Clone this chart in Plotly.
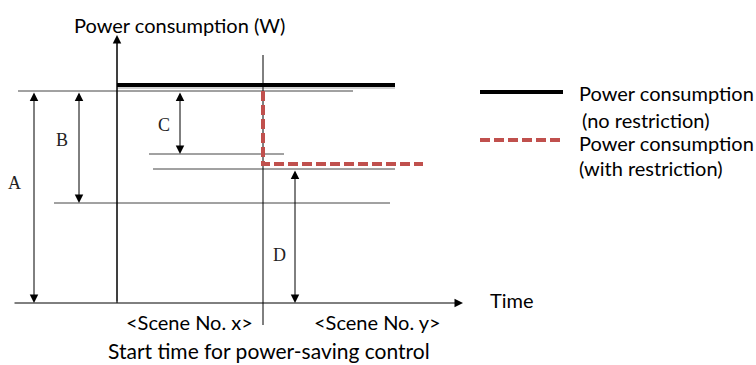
import plotly.graph_objects as go

# ---------------------------------------------------------------------------
# Schematic values (time units along x, power units along y)
# ---------------------------------------------------------------------------
time_unrestricted = [0, 278]
power_unrestricted = [218, 218]

time_restricted = [146, 146, 306]
power_restricted = [212, 139, 139]

start_time = 146
start_line_power = [248, -22]

# thin reference levels: top, C bottom, D top, B bottom
level_names = ["top", "C", "D", "B"]
level_power = [212, 149, 134, 100]
level_from = [-99, 32, 36, -63]
level_to = [236, 167, 278, 273]

# dimension arrows: label, time position, from power, to power
dim_labels = ["A", "B", "C", "D"]
dim_time = [-83, -38, 63, 178]
dim_top = [212, 212, 212, 134]
dim_bottom = [0, 100, 149, 0]
dim_label_pos = [(-103, 120), (-55, 163), (47, 178), (162, 48)]

scene_labels = ["<Scene No. x>", "<Scene No. y>"]
scene_centres = [72, 260]

SANS = "Lato, 'Open Sans', sans-serif"
SERIF = "'Liberation Serif', 'DejaVu Serif', serif"
RED = "#C0504D"
FS = 20

fig = go.Figure()

# guide lines
for name, p, a, b in zip(level_names, level_power, level_from, level_to):
    fig.add_trace(go.Scatter(x=[a, b], y=[p, p], mode="lines",
                             line=dict(color="#444444", width=1),
                             hoverinfo="skip", showlegend=False))

# start time vertical
fig.add_trace(go.Scatter(x=[start_time, start_time], y=start_line_power, mode="lines",
                         line=dict(color="black", width=1),
                         hoverinfo="skip", showlegend=False))

# y axis line
fig.add_trace(go.Scatter(x=[0, 0], y=[0, 262], mode="lines",
                         line=dict(color="black", width=1),
                         hoverinfo="skip", showlegend=False))

# shadow under the unrestricted line
fig.add_trace(go.Scatter(x=time_unrestricted, y=[v - 2 for v in power_unrestricted],
                         mode="lines", line=dict(color="rgba(0,0,0,0.18)", width=4),
                         hoverinfo="skip", showlegend=False))

# main series
fig.add_trace(go.Scatter(x=time_unrestricted, y=power_unrestricted, mode="lines",
                         line=dict(color="black", width=4),
                         name="Power consumption (no restriction)", showlegend=False))
fig.add_trace(go.Scatter(x=time_restricted, y=power_restricted, mode="lines",
                         line=dict(color=RED, width=4, dash="10px,4px"),
                         name="Power consumption (with restriction)", showlegend=False))

ARROW = dict(showarrow=True, arrowhead=2, arrowsize=1.7, arrowwidth=1,
             arrowcolor="black", text="", xref="x", yref="y", axref="x", ayref="y")

annotations = []

# axes arrows
annotations.append(dict(x=0, y=268, ax=0, ay=0, **ARROW))
annotations.append(dict(x=346, y=0, ax=-104, ay=0, **ARROW))

# dimension arrows + labels
for lab, t, top, bot, (lx, ly) in zip(dim_labels, dim_time, dim_top, dim_bottom, dim_label_pos):
    annotations.append(dict(x=t, y=bot, ax=t, ay=top, arrowside="end+start", **ARROW))
    annotations.append(dict(x=lx, y=ly, xref="x", yref="y", text=lab, showarrow=False,
                            font=dict(family=SERIF, size=18, color="#222")))

# texts
annotations.append(dict(x=62, y=278, xref="x", yref="y", text="Power consumption (W)",
                        showarrow=False, font=dict(family=SANS, size=FS, color="black")))
annotations.append(dict(x=371, y=3, xref="x", yref="y", text="Time", xanchor="left",
                        showarrow=False, font=dict(family=SANS, size=FS, color="black")))
for lab, c in zip(scene_labels, scene_centres):
    annotations.append(dict(x=c, y=-19, xref="x", yref="y", text=lab, showarrow=False,
                            font=dict(family=SANS, size=FS, color="black")))
annotations.append(dict(x=152, y=-47, xref="x", yref="y",
                        text="Start time for power-saving control", showarrow=False,
                        font=dict(family=SANS, size=21, color="black")))

# legend texts
legend_text = [(460, 210, "Power consumption"), (463, 183, "(no restriction)"),
               (460, 160, "Power consumption"), (460, 135, "(with restriction)")]
for lx, ly, txt in legend_text:
    annotations.append(dict(x=lx, y=ly, xref="x", yref="y", text=txt, xanchor="left",
                            showarrow=False, font=dict(family=SANS, size=FS, color="black")))

shapes = [
    dict(type="line", x0=363, x1=446, y0=211, y1=211, xref="x", yref="y",
         line=dict(color="black", width=4)),
    dict(type="line", x0=363, x1=446, y0=163, y1=163, xref="x", yref="y",
         line=dict(color=RED, width=4, dash="10px,4px")),
]

fig.update_layout(
    width=756, height=365,
    margin=dict(l=0, r=0, t=0, b=0),
    paper_bgcolor="white", plot_bgcolor="white",
    xaxis=dict(range=[-117, 639], visible=False, fixedrange=True),
    yaxis=dict(range=[-62, 303], visible=False, fixedrange=True),
    annotations=annotations,
    shapes=shapes,
    showlegend=False,
)

fig.write_html("out.html", config={"displayModeBar": False},
               post_script="document.body.style.margin='0';")
